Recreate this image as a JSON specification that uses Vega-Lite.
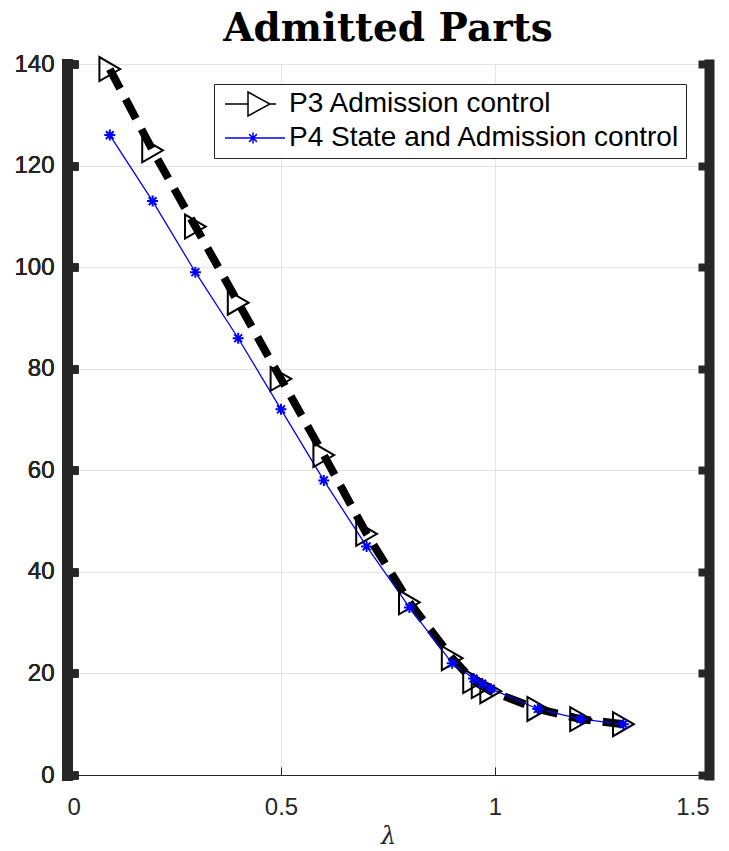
{
  "$schema": "https://vega.github.io/schema/vega-lite/v6.json",
  "width": 642,
  "height": 711,
  "autosize": {"type": "none"},
  "padding": {"left": 67, "top": 64, "right": 20, "bottom": 76},
  "background": "white",
  "title": {
    "text": "Admitted Parts",
    "font": "DejaVu Serif",
    "fontSize": 39,
    "fontWeight": "bold",
    "color": "black",
    "anchor": "middle",
    "offset": 3
  },
  "data": {
    "values": [
      {"lambda": 0.1, "parts": 139, "series": "P3 Admission control"},
      {"lambda": 0.2, "parts": 123, "series": "P3 Admission control"},
      {"lambda": 0.3, "parts": 108, "series": "P3 Admission control"},
      {"lambda": 0.4, "parts": 93, "series": "P3 Admission control"},
      {"lambda": 0.5, "parts": 78, "series": "P3 Admission control"},
      {"lambda": 0.6, "parts": 63, "series": "P3 Admission control"},
      {"lambda": 0.7, "parts": 47.5, "series": "P3 Admission control"},
      {"lambda": 0.8, "parts": 34, "series": "P3 Admission control"},
      {"lambda": 0.9, "parts": 23, "series": "P3 Admission control"},
      {"lambda": 0.95, "parts": 18.5, "series": "P3 Admission control"},
      {"lambda": 0.97, "parts": 17.5, "series": "P3 Admission control"},
      {"lambda": 0.99, "parts": 16.5, "series": "P3 Admission control"},
      {"lambda": 1.1, "parts": 13, "series": "P3 Admission control"},
      {"lambda": 1.2, "parts": 11, "series": "P3 Admission control"},
      {"lambda": 1.3, "parts": 10, "series": "P3 Admission control"},
      {"lambda": 0.1, "parts": 126, "series": "P4 State and Admission control"},
      {"lambda": 0.2, "parts": 113, "series": "P4 State and Admission control"},
      {"lambda": 0.3, "parts": 99, "series": "P4 State and Admission control"},
      {"lambda": 0.4, "parts": 86, "series": "P4 State and Admission control"},
      {"lambda": 0.5, "parts": 72, "series": "P4 State and Admission control"},
      {"lambda": 0.6, "parts": 58, "series": "P4 State and Admission control"},
      {"lambda": 0.7, "parts": 45, "series": "P4 State and Admission control"},
      {"lambda": 0.8, "parts": 33, "series": "P4 State and Admission control"},
      {"lambda": 0.9, "parts": 22, "series": "P4 State and Admission control"},
      {"lambda": 0.95, "parts": 19, "series": "P4 State and Admission control"},
      {"lambda": 0.97, "parts": 18, "series": "P4 State and Admission control"},
      {"lambda": 0.99, "parts": 17, "series": "P4 State and Admission control"},
      {"lambda": 1.1, "parts": 13, "series": "P4 State and Admission control"},
      {"lambda": 1.2, "parts": 11, "series": "P4 State and Admission control"},
      {"lambda": 1.3, "parts": 10, "series": "P4 State and Admission control"}
    ]
  },
  "encoding": {
    "x": {
      "field": "lambda",
      "type": "quantitative",
      "scale": {"domain": [0, 1.5], "nice": false, "zero": false},
      "axis": {
        "orient": "bottom",
        "title": "λ",
        "titleFont": "DejaVu Serif",
        "titleFontStyle": "italic",
        "titleFontWeight": "normal",
        "titleFontSize": 24,
        "titleColor": "#262626",
        "titlePadding": 5,
        "values": [0, 0.5, 1, 1.5],
        "labelExpr": "'' + datum.value",
        "domainColor": "#262626",
        "domainWidth": 1,
        "tickColor": "#262626",
        "tickWidth": 1,
        "tickSize": -8,
        "labelPadding": 28,
        "grid": true
      }
    },
    "y": {
      "field": "parts",
      "type": "quantitative",
      "scale": {"domain": [0, 140], "nice": false},
      "axis": {
        "orient": "left",
        "title": null,
        "values": [0, 20, 40, 60, 80, 100, 120, 140],
        "domainColor": "#262626",
        "domainWidth": 11,
        "domainCap": "square",
        "tickColor": "#262626",
        "tickWidth": 8,
        "tickSize": -11,
        "labelPadding": 24,
        "grid": true
      }
    }
  },
  "layer": [
    {
      "transform": [{"filter": "datum.series === 'P3 Admission control'"}],
      "mark": {
        "type": "line",
        "color": "black",
        "strokeWidth": 8,
        "strokeDash": [22, 12],
        "strokeCap": "butt"
      }
    },
    {
      "transform": [{"filter": "datum.series === 'P4 State and Admission control'"}],
      "mark": {"type": "line", "color": "#0000ff", "strokeWidth": 1.3}
    },
    {
      "transform": [{"filter": "datum.series === 'P3 Admission control'"}],
      "mark": {
        "type": "point",
        "shape": "triangle-right",
        "size": 576,
        "filled": false,
        "color": "black",
        "strokeWidth": 2,
        "opacity": 1
      }
    },
    {
      "transform": [{"filter": "datum.series === 'P4 State and Admission control'"}],
      "mark": {
        "type": "point",
        "shape": "M0,-1V1M-1,0H1M-0.71,-0.71L0.71,0.71M-0.71,0.71L0.71,-0.71",
        "size": 121,
        "filled": false,
        "color": "#0000ff",
        "strokeWidth": 2,
        "opacity": 1
      },
      "encoding": {
        "y": {
          "field": "parts",
          "type": "quantitative",
          "axis": {
            "orient": "right",
            "title": null,
            "labels": false,
            "grid": false,
            "values": [0, 20, 40, 60, 80, 100, 120, 140],
            "domainColor": "#262626",
            "domainWidth": 10,
            "domainCap": "square",
            "tickColor": "#262626",
            "tickWidth": 8,
            "tickSize": -11
          }
        }
      }
    },
    {
      "transform": [{"filter": "datum.lambda < 0"}],
      "mark": {"type": "point", "filled": false, "strokeWidth": 1.5, "opacity": 1},
      "encoding": {
        "color": {
          "field": "series",
          "type": "nominal",
          "scale": {
            "domain": ["P3 Admission control", "P4 State and Admission control"],
            "range": ["black", "#0000ff"]
          }
        },
        "shape": {
          "field": "series",
          "type": "nominal",
          "scale": {
            "domain": ["P3 Admission control", "P4 State and Admission control"],
            "range": [
              "M-3,0H-0.7M-0.7,-1.2L1.5,0L-0.7,1.2ZM1.5,0H2.1",
              "M-3,0H3M-0.2,-0.55V0.55M-0.75,0H0.35M-0.59,-0.39L0.19,0.39M-0.59,0.39L0.19,-0.39"
            ]
          }
        }
      }
    }
  ],
  "resolve": {"axis": {"y": "independent"}},
  "config": {
    "view": {"stroke": "#262626", "strokeWidth": 1},
    "legend": {
      "title": null,
      "orient": "none",
      "legendX": 147,
      "legendY": 20,
      "fillColor": "white",
      "strokeColor": "#262626",
      "padding": 6,
      "labelFont": "Liberation Sans",
      "labelFontSize": 28,
      "labelColor": "black",
      "labelLimit": 0,
      "symbolSize": 400,
      "symbolOffset": 21,
      "labelOffset": 20,
      "rowPadding": 5,
      "symbolStrokeWidth": 1.5
    },
    "axis": {
      "labelFont": "Liberation Sans",
      "labelFontSize": 24,
      "labelColor": "#262626",
      "gridColor": "#e3e3e3",
      "gridWidth": 1
    }
  }
}
